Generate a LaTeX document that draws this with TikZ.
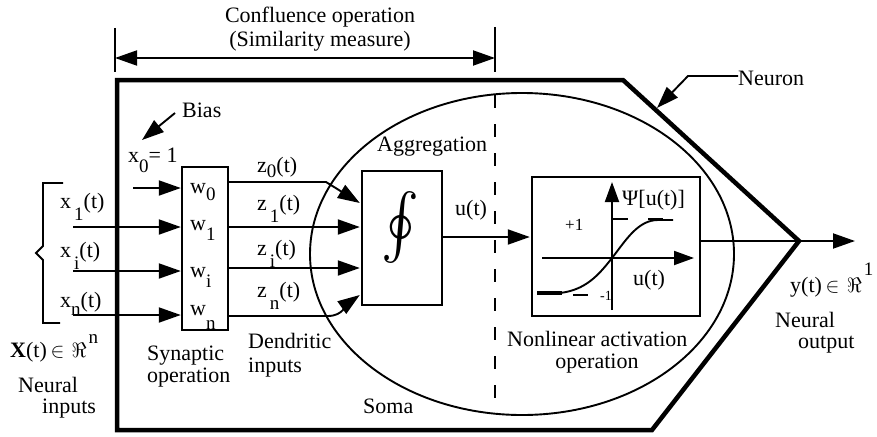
\documentclass[tikz,border=0pt]{standalone}
\usepackage{graphicx}
\usepackage{fontspec}
\setmainfont{Liberation Serif}
\usetikzlibrary{arrows.meta,calc}
\newcommand\lsub[2][12pt]{\raisebox{-#1}{\fontsize{19}{19}\selectfont #2}}
\newcommand\lsup[2][14pt]{\raisebox{#1}{\fontsize{19}{19}\selectfont #2}}
\begin{document}
\begin{tikzpicture}[x=1pt,y=-1pt,
  lbl/.style={font=\fontsize{22}{26}\selectfont, inner sep=0pt, anchor=base west},
  lblc/.style={lbl, anchor=base},
  small/.style={font=\fontsize{17}{19}\selectfont, inner sep=0pt, anchor=base west},
  tri/.style={-{Triangle[length=22pt,width=15pt]}},
  conn/.style={line width=1.9pt},
  outline/.style={line width=4.5pt, line join=miter},
  box/.style={draw, line width=2.4pt, inner sep=0pt, fill=white}]
\useasboundingbox (0,0) rectangle (877,436);

% neuron outline
\coordinate (tip) at (799,241);
\draw[outline] (117,80) -- (623,80) -- (tip) -- (652,430) -- (117,430) -- cycle;

% soma
\draw[line width=1.9pt] (522,254) ellipse [x radius=212pt, y radius=161pt];

% dashed separator
\coordinate (dtop) at (495,95);
\coordinate (dbot) at (495,402);
\draw[line width=2.6pt, dash pattern=on 13pt off 16pt] (dtop) -- (dbot);

% dimension arrow
\coordinate (dl1) at (115,28); \coordinate (dl2) at (115,72);
\coordinate (dr1) at (495,27); \coordinate (dr2) at (495,72);
\draw[conn] (dl1) -- (dl2);
\draw[conn] (dr1) -- (dr2);
\coordinate (dla) at (115,58); \coordinate (dra) at (495,58);
\draw[conn,{Triangle[length=22pt,width=15pt]}-{Triangle[length=22pt,width=15pt]}] (dla) -- (dra);
\node[lblc] (conf1) at (320,23) {Confluence operation};
\node[lblc] (conf2) at (320,46) {(Similarity measure)};

% neuron label
\node[lbl] (neuron) at (738,85) {Neuron};
\coordinate (nbend) at (688,76);
\coordinate (ntip) at (657,108);
\draw[conn,tri] (neuron.west |- nbend) -- (nbend) -- (ntip);

% boxes
\node[box, minimum width=46pt, minimum height=163pt] (wbox) at (205,248.5) {};
\node[box, minimum width=80pt, minimum height=134pt] (agg) at (402,238) {};
\node[box, minimum width=168pt, minimum height=139pt] (act) at (616,246.5) {};

\node[inner sep=0pt] (integ) at (401,228) {\resizebox*{38pt}{72pt}{$\oint$}};

% bias
\node[lbl] (bias) at (182,117) {Bias};
\coordinate (bs) at (175,113);
\coordinate (bt) at (142,140);
\draw[conn,tri] (bs) -- (bt);
\node[lbl] (x0) at (128,162) {x\lsub[10pt]{0}= 1};

% inputs
\coordinate (x0s) at (133,188);
\coordinate (x1s) at (73,227);
\coordinate (xis) at (73,271);
\coordinate (xns) at (73,315);
\foreach \c in {x0s,x1s,xis,xns}
  \draw[conn,tri] (\c) -- (\c -| wbox.west);

\node[lbl] (x1) at (60,208) {x\hspace{3pt}\lsub{1}(t)};
\node[lbl] (xi) at (60,257) {x\hspace{3pt}\lsub{i}(t)};
\node[lbl] (xn) at (60,307) {x\lsub[8pt]{n}(t)};

% bracket
\coordinate (br1) at (63,183);
\coordinate (br2) at (60,323);
\draw[conn] (br1) -- (43,183) -- (43,246) -- (36,253) -- (43,260) -- (43,323) -- (br2);

% weights
\node[lbl] (w0) at (190,193) {w\lsub[7pt]{0}};
\node[lbl] (w1) at (190,230) {w\lsub[10pt]{1}};
\node[lbl] (wi) at (190,277) {w\lsub[10pt]{i}};
\node[lbl] (wn) at (190,315) {w\lsub[14pt]{n}};

% dendritic
\coordinate (z0y) at (0,182);
\coordinate (z1y) at (0,227);
\coordinate (ziy) at (0,268);
\coordinate (zny) at (0,316);
\coordinate (z0b) at (326,182);
\coordinate (znb) at (328,316);
\draw[conn,tri] (wbox.east |- z0y) -- (z0b) -- ($(agg.west |- 0,203)+(-1,0)$);
\draw[conn,tri] (wbox.east |- z1y) -- ($(agg.west |- z1y)+(-1,0)$);
\draw[conn,tri] (wbox.east |- ziy) -- ($(agg.west |- ziy)+(-1,0)$);
\draw[conn,tri] (wbox.east |- zny) -- (znb) to[out=0,in=215] ($(agg.west |- 0,295)+(-1,0)$);

\node[lbl] (z0) at (257,172) {z\lsub[5pt]{0}(t)};
\node[lbl] (z1) at (257,210) {z\hspace{3pt}\lsub{1}(t)};
\node[lbl] (zi) at (257,255) {z\hspace{3pt}\lsub{i}(t)};
\node[lbl] (zn) at (257,297) {z\hspace{3pt}\lsub{n}(t)};

% aggregation
\node[lbl] (aggl) at (377,151) {Aggregation};
\coordinate (uy) at (0,237);
\draw[conn,tri] (agg.east |- uy) -- ($(act.west |- uy)+(-1,0)$);
\node[lbl] (ut) at (455,215) {u(t)};

% activation internals
\coordinate (vb) at (612,310);
\coordinate (vt) at (612,182);
\coordinate (hl) at (542,258);
\coordinate (hr) at (694,258);
\draw[conn,-{Triangle[length=20pt,width=14pt]}] (vb) -- (vt);
\draw[conn,-{Triangle[length=20pt,width=14pt]}] (hl) -- (hr);
\draw[line width=4pt] (537,293) -- (562,293);
\draw[conn] (560,293) .. controls (585,290) and (598,276) .. (612,258)
  .. controls (626,240) and (638,220) .. (658,220) -- (673,220);
\draw[line width=2.4pt] (613,219) -- (628,219);
\draw[line width=2.4pt] (648,219) -- (663,219);
\draw[line width=2.4pt] (573,295) -- (588,295);
\node[lbl] (psi) at (622,205) {Ψ[u(t)]};
\node[small] (p1) at (565,230) {+1};
\node[small, font=\fontsize{14}{16}\selectfont] (m1) at (600,300) {-1};
\node[lbl] (ut2) at (633,285) {u(t)};

% output
\coordinate (oend) at (855,241);
\draw[conn,tri] (act.east |- tip) -- (tip) -- (oend);

% texts
\node[lbl] (nla) at (507,346) {Nonlinear activation};
\node[lblc] (nla2) at (597,368) {operation};
\node[lbl] (yt) at (790,292) {y(t)\,$\in$\,\,$\Re$\hspace{2pt}\lsup[17pt]{1}};
\node[lbl] (no1) at (775,327) {Neural};
\node[lbl] (no2) at (798,348) {output};
\node[lbl] (Xt) at (10,357) {\textbf{X}(t)\,$\in$\,\,$\Re$\hspace{2pt}\lsup{n}};
\node[lbl] (ni1) at (18,392) {Neural};
\node[lbl] (ni2) at (42,413) {inputs};
\node[lbl] (syn1) at (147,360) {Synaptic};
\node[lbl] (syn2) at (147,382) {operation};
\node[lbl] (den1) at (248,348) {Dendritic};
\node[lbl] (den2) at (248,372) {inputs};
\node[lbl] (soma) at (363,413) {Soma};
\end{tikzpicture}
\end{document}
